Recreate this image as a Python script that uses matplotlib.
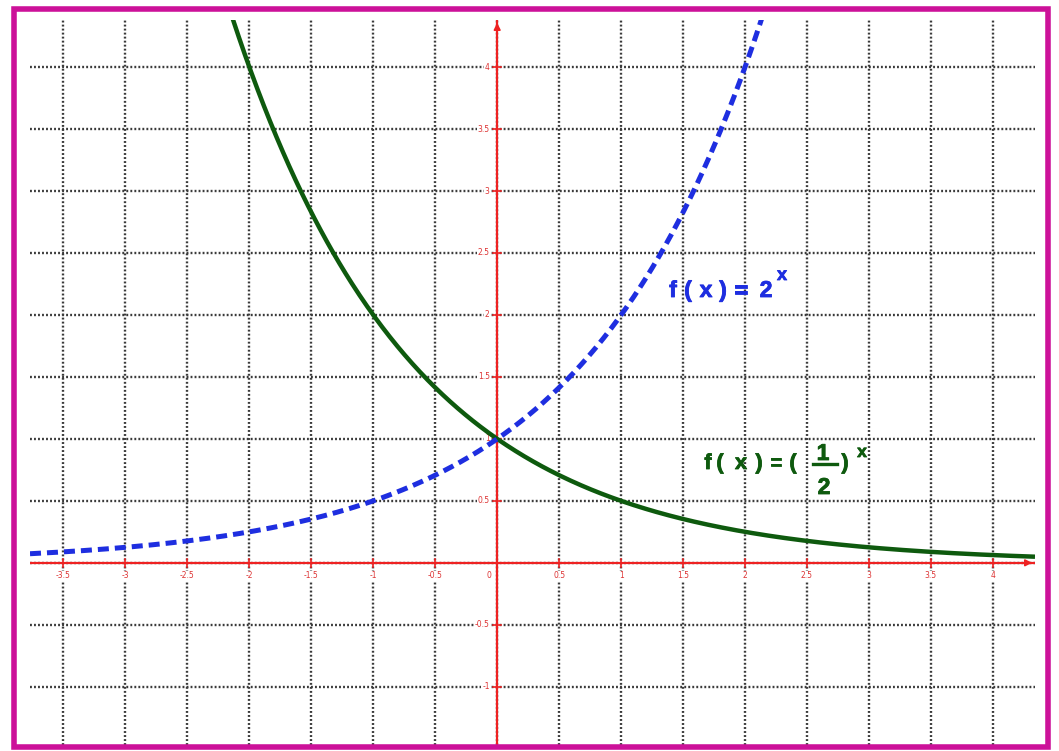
import numpy as np
import matplotlib
matplotlib.use("Agg")
import matplotlib.pyplot as plt
import matplotlib.patheffects as pe
from matplotlib.patches import Rectangle
from matplotlib.lines import Line2D

# ---- data ----
bases = [2.0, 0.5]                      # f(x) = 2^x and f(x) = (1/2)^x
x_ticks = [-3.5, -3, -2.5, -2, -1.5, -1, -0.5, 0, 0.5, 1, 1.5, 2, 2.5, 3, 3.5, 4]
x_tick_labels = ["-3.5", "-3", "-2.5", "-2", "-1.5", "-1", "-0.5", "0",
                 "0.5", "1", "1.5", "2", "2.5", "3", "3.5", "4"]
y_ticks = [-1, -0.5, 0.5, 1, 1.5, 2, 2.5, 3, 3.5, 4]
y_tick_labels = ["-1", "-0.5", "0.5", "1", "1.5", "2", "2.5", "3", "3.5", "4"]
xlim = (-3.77, 4.34)
ylim = (-1.47, 4.38)

W, H = 1059, 751
BLUE = "#1e2ee0"
GREEN = "#0e5a0e"
RED = "#ee2222"

fig = plt.figure(figsize=(W/100, H/100), dpi=100)
ax = fig.add_axes([30/W, 1-745/H, 1005/W, 725/H])
ax.set_xlim(*xlim)
ax.set_ylim(*ylim)
ax.axis("off")

# grid
gls = (0, (0.8, 0.9))
for xv in x_ticks:
    ax.axvline(xv, color="#3a3a3a", lw=1.7, ls=gls, zorder=1)
for yv in y_ticks + [0]:
    ax.axhline(yv, color="#3a3a3a", lw=1.7, ls=gls, zorder=1)

# axes
ax.plot([xlim[0], xlim[1]], [0, 0], color=RED, lw=1.6, zorder=3)
ax.plot([0, 0], [ylim[0], ylim[1]], color=RED, lw=1.6, zorder=3)
ax.annotate("", xy=(xlim[1], 0), xytext=(xlim[1]-0.05, 0),
            arrowprops=dict(arrowstyle="-|>", color=RED, lw=1.2), zorder=3)
ax.annotate("", xy=(0, ylim[1]), xytext=(0, ylim[1]-0.05),
            arrowprops=dict(arrowstyle="-|>", color=RED, lw=1.2), zorder=3)

# tick marks + labels
for xv, lab in zip(x_ticks, x_tick_labels):
    if xv != 0:
        ax.plot([xv, xv], [-0.03, 0.03], color=RED, lw=1.2, zorder=3)
    ax.text(xv - (0.07 if xv == 0 else 0), -0.07, lab, color="#dd3333", fontsize=5.5,
            ha="center", va="top", zorder=4,
            bbox=dict(facecolor="white", edgecolor="none", pad=0.6))
for yv, lab in zip(y_ticks, y_tick_labels):
    ax.plot([-0.03, 0.03], [yv, yv], color=RED, lw=1.2, zorder=3)
    ax.text(-0.06, yv, lab, color="#dd3333", fontsize=5.5,
            ha="right", va="center", zorder=4,
            bbox=dict(facecolor="white", edgecolor="none", pad=0.6))

# curves
xs = np.linspace(xlim[0], xlim[1], 800)
ax.plot(xs, bases[1] ** xs, color=GREEN, lw=3.2, zorder=5, solid_capstyle="butt")
ax.plot(xs, bases[0] ** xs, color=BLUE, lw=3.6, ls=(0, (2.2, 1.2)), zorder=6)

# function labels (token by token, figure-pixel layout)
def tok(s, px, py, color, size=15.5, va="baseline"):
    fig.text(px/W, 1-py/H, s, color=color, fontsize=size, fontweight="bold",
             family=["Liberation Sans", "DejaVu Sans"], ha="center", va=va, zorder=7,
             path_effects=[pe.withStroke(linewidth=0.6, foreground=color)])

for s, px in [("f", 673), ("(", 688), ("x", 706), (")", 723), ("=", 741), ("2", 766)]:
    tok(s, px, 297, BLUE, size=16.5)
tok("x", 782, 280, BLUE, size=13)

for s, px in [("f", 708), ("(", 720), ("x", 741), (")", 759), ("=", 776), ("(", 793), (")", 845)]:
    tok(s, px, 469, GREEN)
tok("1", 823, 460, GREEN, size=16.5)
tok("2", 824, 494, GREEN, size=16.5)
fig.add_artist(Line2D([813/W, 837/W], [1-464/H, 1-464/H], color=GREEN, lw=2.4))
tok("x", 862, 457, GREEN, size=12.5)

# magenta frame
fig.patches.append(Rectangle((14/W, 1-747/H), 1034/W, 738/H,
                             transform=fig.transFigure, fill=False,
                             edgecolor="#cc1199", lw=4.0, zorder=10))

fig.savefig("out.png", dpi=100)
